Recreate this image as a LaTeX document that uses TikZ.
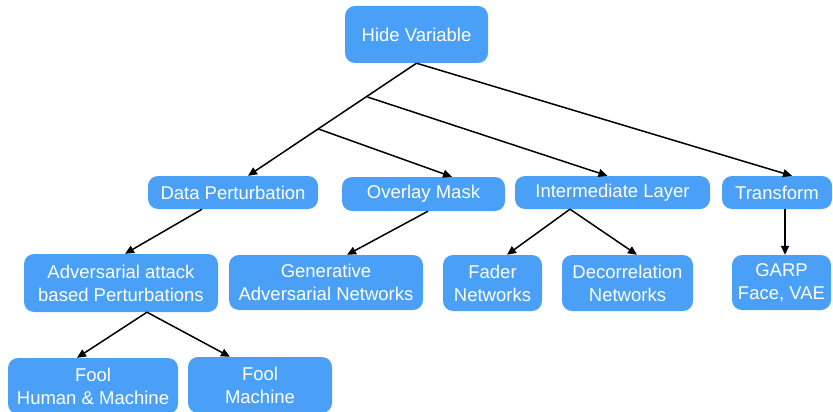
\documentclass[tikz,border=0pt]{standalone}
\usepackage{fontspec}
\setmainfont{Liberation Sans}
\usetikzlibrary{arrows.meta}

\definecolor{boxblue}{RGB}{73,160,246}

\tikzset{
    box/.style={fill=boxblue, rounded corners=10pt, text=white, align=center,
        inner sep=0pt, font=\fontsize{18.5}{23}\selectfont},
    link/.style={line width=1.5pt, -{Triangle[length=9pt,width=8pt]}},
    plain/.style={line width=1.5pt},
}

\begin{document}
\begin{tikzpicture}[x=1pt, y=-1pt]
        \useasboundingbox (0,0) rectangle (833,412);

        % top
        \node[box, minimum width=143pt, minimum height=57pt] (hide) at (416.5, 34.5) {Hide Variable};

        % first row
        \node[box, minimum width=170pt, minimum height=33pt] (dp) at (233, 192.5) {Data Perturbation};
        \node[box, minimum width=163pt, minimum height=34pt] (ov) at (423.5, 194) {Overlay Mask};
        \node[box, minimum width=195pt, minimum height=33pt] (il) at (612.5, 192.5) {Intermediate Layer};
        \node[box, minimum width=110pt, minimum height=33pt] (tr) at (777, 192.5) {Transform};

        % second row
        \node[box, minimum width=194pt, minimum height=58pt] (adv) at (121, 283) {Adversarial attack\\based Perturbations};
        \node[box, minimum width=194pt, minimum height=55pt] (gan) at (326, 282.5) {Generative\\Adversarial Networks};
        \node[box, minimum width=99pt, minimum height=56pt] (fad) at (492.5, 283) {Fader\\Networks};
        \node[box, minimum width=131pt, minimum height=56pt] (dec) at (627.5, 283) {Decorrelation\\Networks};
        \node[box, minimum width=99pt, minimum height=55pt] (garp) at (781.5, 282.5) {GARP\\Face, VAE};

        % third row
        \node[box, minimum width=170pt, minimum height=56pt] (fhm) at (93, 386) {Fool\\Human \& Machine};
        \node[box, minimum width=144pt, minimum height=56pt] (fm) at (260, 385) {Fool\\Machine};

        % joints on the trunk
        \coordinate (j1) at (367.5, 97);
        \coordinate (j2) at (318.5, 129);

        \draw[link] (hide.south) -- ([xshift=15pt]dp.north);
        \draw[link] (j2) -- ([xshift=28.5pt]ov.north);
        \draw[link] (j1) -- ([xshift=-5pt]il.north);
        \draw[link] (hide.south) -- ([xshift=15pt]tr.north);

        \draw[link] ([xshift=-31pt]dp.south) -- ([xshift=4pt]adv.north);
        \draw[link] ([xshift=4.5pt]ov.south) -- ([xshift=21pt]gan.north);
        \draw[link] ([xshift=-42.5pt]il.south) -- ([xshift=14.5pt]fad.north);
        \draw[link] ([xshift=-42.5pt]il.south) -- ([xshift=9.5pt]dec.north);
        \draw[link] ([xshift=8pt]tr.south) -- ([xshift=3.5pt]garp.north);

        \draw[link] ([xshift=26pt]adv.south) -- ([xshift=-16pt]fhm.north);
        \draw[link] ([xshift=26pt]adv.south) -- ([xshift=-30pt]fm.north);
\end{tikzpicture}
\end{document}
